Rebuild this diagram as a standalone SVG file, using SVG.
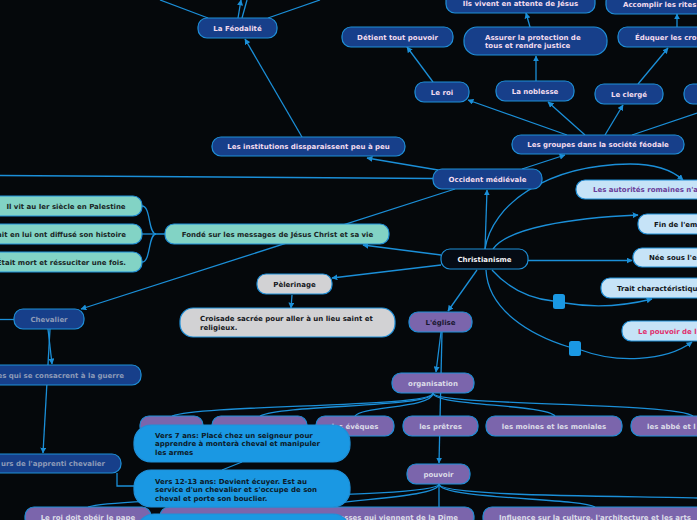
<svg xmlns="http://www.w3.org/2000/svg" width="697" height="520" viewBox="0 0 697 520">
<defs>
<marker id="ar" viewBox="0 0 10 10" refX="9" refY="5" markerWidth="6" markerHeight="6" markerUnits="userSpaceOnUse" orient="auto"><path d="M0,0 L10,5 L0,10 z" fill="#1b8fd8"/></marker>
<style>
text{font-family:"DejaVu Sans","Verdana",sans-serif;font-weight:bold;font-size:7px}
.c{fill:none;stroke:#1b8fd8;stroke-width:1.3}
.ca{fill:none;stroke:#1b8fd8;stroke-width:1.3;marker-end:url(#ar)}
.db rect{fill:#173f8a;stroke:#1f8fd8;stroke-width:1.2}
.db text{fill:#f3dcef}
.ch rect{fill:#173f8a;stroke:#1f8fd8;stroke-width:1.2}
.ch text{fill:#8d9bb8}
.tl rect{fill:#82d3c5;stroke:#1f8fd8;stroke-width:1.2}
.tl text{fill:#1a2626}
.lb rect{fill:#c6e3f7;stroke:#1f8fd8;stroke-width:1.2}
.lb text{fill:#111418}
.gr rect{fill:#d2d2d4;stroke:#1f8fd8;stroke-width:1.2}
.gr text{fill:#15181c}
.pu rect{fill:#7b65ac;stroke:#1f8fd8;stroke-width:1.2}
.pu text{fill:#dcdce8}
.bb rect{fill:#1a98e3;stroke:#1f8fd8;stroke-width:1.2}
.bb text{fill:#0c1a28}
.m{text-anchor:middle}
.e{text-anchor:end}
</style>
</defs>
<rect width="697" height="520" fill="#05080b"/>
<g id="connectors">
<path class="c" d="M208,18 L160,0"/>
<path class="ca" d="M238,18 L241,0"/>
<path class="c" d="M242,18 L247,0"/>
<path class="c" d="M268,18 L320,0"/>
<path class="ca" d="M302,137 L245,39"/>
<path class="ca" d="M433,82 L407,47"/>
<path class="ca" d="M536,81 L536,56"/>
<path class="ca" d="M530,27 L526,13"/>
<path class="ca" d="M638,84 L668,48"/>
<path class="ca" d="M677,27 L677,14"/>
<path class="ca" d="M567,135 L468,100"/>
<path class="ca" d="M585,135 L548,102"/>
<path class="ca" d="M605,135 L623,105"/>
<path class="c" d="M632,135 L697,113"/>
<path class="ca" d="M522,169 L565,155"/>
<path class="ca" d="M438,170 L367,158"/>
<path class="c" d="M433,178.5 L0,175.5"/>
<path class="ca" d="M455,189 L81,309"/>
<path class="ca" d="M485,249 L487,190"/>
<path class="ca" d="M441,255 L363,245"/>
<path class="ca" d="M441,265 L332,278"/>
<path class="ca" d="M477,270 L448,311"/>
<path class="ca" d="M485,249 C492,205 545,165 630,164 C655,164 672,170 683,180"/>
<path class="ca" d="M493,249 C508,228 570,218 638,215"/>
<path class="ca" d="M528,260.5 L632,260.5"/>
<path class="c" d="M492,270 C510,290 533,299 553,301"/>
<path class="ca" d="M565,303 C600,309 628,305 652,299"/>
<path class="c" d="M486,270 C488,310 530,335 569,347"/>
<path class="ca" d="M581,350 C615,363 665,362 692,342"/>
<path class="c" d="M166,234 H156 C148,234 151,206 142,206"/>
<path class="c" d="M156,234 H142"/>
<path class="c" d="M156,234 C148,234 151,262 142,262"/>
<path class="ca" d="M292,295 L291,308"/>
<path class="c" d="M0,319.5 H14"/>
<path class="ca" d="M48,329 L52,364"/>
<path class="ca" d="M50,329 L43,453"/>
<path class="c" d="M117,473 V486 H135"/>
<path class="c" d="M222,470 L242,462"/>
<path class="ca" d="M441,332 L436,372"/>
<path class="ca" d="M442,332 L439,463"/>
<path class="c" d="M433,393 C433,408 205,404 172,416"/>
<path class="c" d="M433,393 C433,408 285,404 260,416"/>
<path class="c" d="M433,393 C433,408 362,406 355,416"/>
<path class="c" d="M433,393 C433,406 545,404 555,416"/>
<path class="c" d="M433,393 C433,406 675,402 693,416"/>
<path class="c" d="M439,484 C439,499 120,496 88,507"/>
<path class="c" d="M439,484 C439,498 340,499 317,507"/>
<path class="c" d="M439,484 V507"/>
<path class="c" d="M439,484 C439,499 580,498 595,507"/>
<path class="c" d="M439,484 C439,497 640,496 697,498"/>
</g>
<g id="n-feodalite" class="db"><rect x="198" y="18" width="79" height="20" rx="9"/><text class="m" x="237.5" y="30.5">La Féodalité</text></g>
<g id="n-detient" class="db"><rect x="342" y="27" width="111" height="20" rx="9"/><text class="m" x="397.5" y="39.5">Détient tout pouvoir</text></g>
<g id="n-ilsvivent" class="db"><rect x="446" y="-8" width="149" height="21" rx="9"/><text class="m" x="520.5" y="6">Ils vivent en attente de Jésus</text></g>
<g id="n-accomplir" class="db"><rect x="606" y="-7" width="110" height="21" rx="9"/><text x="623" y="6.5">Accomplir les rites</text></g>
<g id="n-assurer" class="db"><rect x="464" y="27" width="143" height="28" rx="13"/><text x="485" y="39.5">Assurer la protection de</text><text x="485" y="47.5">tous et rendre justice</text></g>
<g id="n-eduquer" class="db"><rect x="618" y="27" width="100" height="20" rx="9"/><text x="635" y="39.5">Éduquer les cro</text></g>
<g id="n-roi" class="db"><rect x="415" y="82" width="54" height="20" rx="9"/><text class="m" x="442" y="94.5">Le roi</text></g>
<g id="n-noblesse" class="db"><rect x="496" y="81" width="78" height="20" rx="9"/><text class="m" x="535" y="93.5">La noblesse</text></g>
<g id="n-clerge" class="db"><rect x="595" y="84" width="68" height="20" rx="9"/><text class="m" x="629" y="96.5">Le clergé</text></g>
<g id="n-right" class="db"><rect x="684" y="84" width="40" height="20" rx="9"/></g>
<g id="n-groupes" class="db"><rect x="512" y="135" width="172" height="19" rx="9"/><text class="m" x="598" y="147">Les groupes dans la société féodale</text></g>
<g id="n-institutions" class="db"><rect x="212" y="137" width="193" height="19" rx="9"/><text class="m" x="308.5" y="149">Les institutions dissparaissent peu à peu</text></g>
<g id="n-occident" class="db"><rect x="433" y="169" width="109" height="20" rx="9"/><text class="m" x="487.5" y="181.5">Occident médiévale</text></g>
<g id="n-autorites" class="lb"><rect x="576" y="180" width="130" height="19" rx="9"/><text x="593" y="192" style="fill:#6a3d9a">Les autorités romaines n'a</text></g>
<g id="n-fin" class="lb"><rect x="638" y="214" width="70" height="20" rx="9"/><text x="654" y="226.5">Fin de l'em</text></g>
<g id="n-nee" class="lb"><rect x="633" y="248" width="75" height="19" rx="9"/><text x="649" y="260">Née sous l'e</text></g>
<g id="n-trait" class="lb"><rect x="601" y="278" width="110" height="20" rx="9"/><text x="617" y="290.5">Trait charactéristiqu</text></g>
<g id="n-pouvoirde" class="lb"><rect x="622" y="321" width="90" height="20" rx="9"/><text x="638" y="333.5" style="fill:#e0306e">Le pouvoir de l</text></g>
<g id="n-sq1"><rect x="553" y="294" width="12" height="15" rx="2.5" fill="#1a98e3"/></g>
<g id="n-sq2"><rect x="569" y="341" width="12" height="15" rx="2.5" fill="#1a98e3"/></g>
<g id="n-christ"><rect x="441" y="249" width="87" height="20" rx="9" fill="#050b14" stroke="#1f8fd8" stroke-width="1.2"/><text class="m" x="484.5" y="261.5" fill="#f2f2f6">Christianisme</text></g>
<g id="n-fonde" class="tl"><rect x="165" y="224" width="224" height="20" rx="9"/><text class="m" x="277.5" y="236.5">Fondé sur les messages de Jésus Christ et sa vie</text></g>
<g id="n-vit" class="tl"><rect x="-12" y="196" width="154" height="20" rx="9"/><text class="m" x="66" y="208.5">Il vit au Ier siècle en Palestine</text></g>
<g id="n-diffuse" class="tl"><rect x="-12" y="224" width="154" height="20" rx="9"/><text class="e" x="126" y="236.5">ait en lui ont diffusé son histoire</text></g>
<g id="n-mort" class="tl"><rect x="-12" y="252" width="154" height="20" rx="9"/><text class="e" x="126" y="264.5">Était mort et réssuciter une fois.</text></g>
<g id="n-pelerinage" class="gr"><rect x="257" y="274" width="75" height="20" rx="9"/><text class="m" x="294.5" y="286.5">Pèlerinage</text></g>
<g id="n-croisade" class="gr"><rect x="180" y="308" width="215" height="29" rx="13"/><text x="200" y="320.5">Croisade sacrée pour aller à un lieu saint et</text><text x="200" y="329.5">religieux.</text></g>
<g id="n-chevalier" class="ch"><rect x="14" y="309" width="70" height="20" rx="9"/><text class="m" x="49" y="321.5">Chevalier</text></g>
<g id="n-consacrent" class="ch"><rect x="-12" y="365" width="153" height="20" rx="9"/><text class="e" x="124" y="377.5">es qui se consacrent à la guerre</text></g>
<g id="n-apprenti" class="ch"><rect x="-12" y="454" width="133" height="19" rx="9"/><text class="e" x="105" y="466">urs de l'apprenti chevalier</text></g>
<g id="n-eglise" class="pu"><rect x="409" y="312" width="63" height="20" rx="9"/><text class="m" x="440.5" y="324.5" style="fill:#1a1830">L'église</text></g>
<g id="n-organisation" class="pu"><rect x="392" y="373" width="82" height="20" rx="9"/><text class="m" x="433" y="385.5">organisation</text></g>
<g id="n-p1" class="pu"><rect x="140" y="416" width="63" height="20" rx="9"/></g>
<g id="n-p2" class="pu"><rect x="212" y="416" width="95" height="20" rx="9"/></g>
<g id="n-eveques" class="pu"><rect x="316" y="416" width="78" height="20" rx="9"/><text class="m" x="355" y="428.5">les évêques</text></g>
<g id="n-pretres" class="pu"><rect x="403" y="416" width="75" height="20" rx="9"/><text class="m" x="440.5" y="428.5">les prêtres</text></g>
<g id="n-moines" class="pu"><rect x="486" y="416" width="136" height="20" rx="9"/><text class="m" x="554" y="428.5">les moines et les moniales</text></g>
<g id="n-abbe" class="pu"><rect x="631" y="416" width="90" height="20" rx="9"/><text x="647" y="428.5">les abbé et l</text></g>
<g id="n-pouvoir" class="pu"><rect x="407" y="464" width="63" height="20" rx="9"/><text class="m" x="438.5" y="476.5">pouvoir</text></g>
<g id="n-roipape" class="pu"><rect x="25" y="507" width="126" height="20" rx="9"/><text class="m" x="88" y="519.5">Le roi doit obéir le pape</text></g>
<g id="n-richesses" class="pu"><rect x="160" y="507" width="314" height="20" rx="9"/><text class="e" x="458" y="519.5">Les richesses qui viennent de la Dîme</text></g>
<g id="n-influence" class="pu"><rect x="483" y="507" width="225" height="20" rx="9"/><text x="499" y="519.5">Influence sur la culture, l'architecture et les arts</text></g>
<g id="n-vers7" class="bb"><rect x="134" y="425" width="216" height="37" rx="17"/><text x="155" y="437.5">Vers 7 ans: Placé chez un seigneur pour</text><text x="155" y="446">apprendre à monterà cheval et manipuler</text><text x="155" y="454.5">les armes</text></g>
<g id="n-vers12" class="bb"><rect x="134" y="470" width="216" height="37" rx="17"/><text x="155" y="483.5">Vers 12-13 ans: Devient écuyer. Est au</text><text x="155" y="492">service d'un chevalier et s'occupe de son</text><text x="155" y="500.5">cheval et porte son bouclier.</text></g>
<g id="n-bubble3" class="bb"><rect x="137" y="514" width="213" height="37" rx="17"/></g>
</svg>
